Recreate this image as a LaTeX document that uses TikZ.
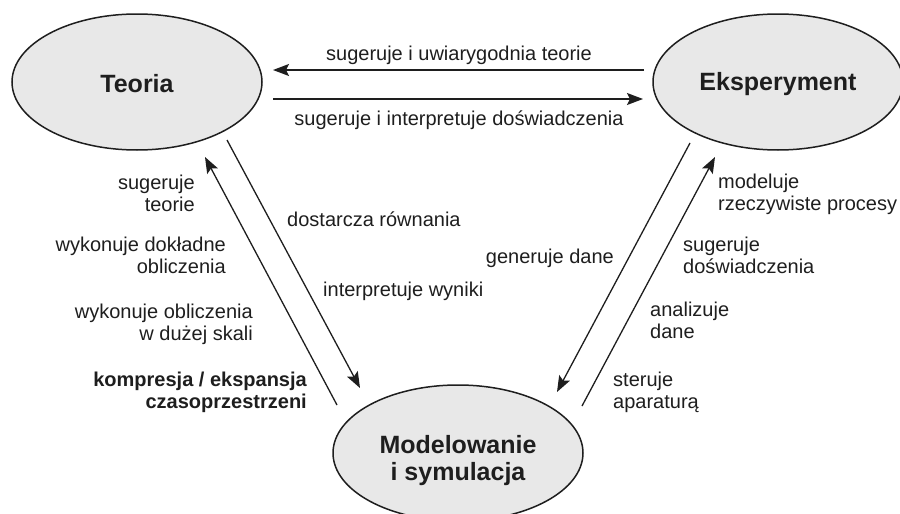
\documentclass[tikz,border=0pt]{standalone}
\usepackage{fontspec}
\setmainfont{Liberation Sans}
\usetikzlibrary{arrows.meta,shapes.geometric}
\definecolor{ink}{HTML}{1E1E1E}
\definecolor{fillgray}{HTML}{E8E8E8}
\tikzset{
  bubble/.style={ellipse, draw=ink, line width=1.5pt, fill=fillgray,
    minimum width=250pt, minimum height=136pt, inner sep=0pt,
    font=\fontsize{25}{27}\selectfont\bfseries, text=ink, align=center},
  title/.style={font=\fontsize{25}{27}\selectfont\bfseries, text=ink, align=center, inner sep=0pt},
  arr/.style={draw=ink, line width=1.3pt, -{Stealth[length=16pt,width=12pt,inset=3pt]}},
  lbl/.style={font=\fontsize{20}{21.5}\selectfont, text=ink, inner sep=0pt},
  lblR/.style={lbl, align=right, anchor=base east},
  lblL/.style={lbl, align=left, anchor=base west},
}
\begin{document}
\begin{tikzpicture}[x=1pt,y=-1pt]
\useasboundingbox (0,0) rectangle (900,514);
\clip (0,0) rectangle (900,514);
\node[bubble] (teoria) at (137,82) {};
\node[title] (teoria-t) at (137,84) {Teoria};
\node[bubble] (eksp) at (778,82) {};
\node[title] (eksp-t) at (778,84) {Eksperyment};
\node[bubble] (model) at (458,453) {};
\node[title] (model-t) at (458,461) {Modelowanie\\i symulacja};

% horizontal connectors
\coordinate (h1s) at (644,70);
\coordinate (h1e) at (273,70);
\coordinate (h2s) at (273,99);
\coordinate (h2e) at (643,99);
\draw[arr] (h1s) -- (h1e);
\draw[arr] (h2s) -- (h2e);

% left connectors
\coordinate (l1s) at (227,140);
\coordinate (l1e) at (360,388);
\coordinate (l2s) at (337,405);
\coordinate (l2e) at (205,157);
\draw[arr] (l1s) -- (l1e);
\draw[arr] (l2s) -- (l2e);

% right connectors
\coordinate (r1s) at (690,143);
\coordinate (r1e) at (557,392);
\coordinate (r2s) at (582,406);
\coordinate (r2e) at (715,157);
\draw[arr] (r1s) -- (r1e);
\draw[arr] (r2s) -- (r2e);

% labels top
\node[lbl, anchor=base] (t1) at (459,60) {sugeruje i uwiarygodnia teorie};
\node[lbl, anchor=base] (t2) at (459,125) {sugeruje i interpretuje doświadczenia};

% labels left (base = last line)
\node[lblR] (a1) at (195,211) {sugeruje\\teorie};
\node[lblR] (a2) at (226,273) {wykonuje dokładne\\obliczenia};
\node[lblR] (a3) at (253,340) {wykonuje obliczenia\\w dużej skali};
\node[lblR, font=\fontsize{20}{21.5}\selectfont\bfseries] (a4) at (307,408) {kompresja / ekspansja\\czasoprzestrzeni};
\node[lblL] (b1) at (287,226) {dostarcza równania};
\node[lblL] (b2) at (323,296) {interpretuje wyniki};

% labels right
\node[lblR] (c1) at (614,263) {generuje dane};
\node[lblL] (d1) at (718,210) {modeluje\\rzeczywiste procesy};
\node[lblL] (d2) at (683,273) {sugeruje\\doświadczenia};
\node[lblL] (d3) at (650,338) {analizuje\\dane};
\node[lblL] (d4) at (613,408) {steruje\\aparaturą};
\end{tikzpicture}
\end{document}
